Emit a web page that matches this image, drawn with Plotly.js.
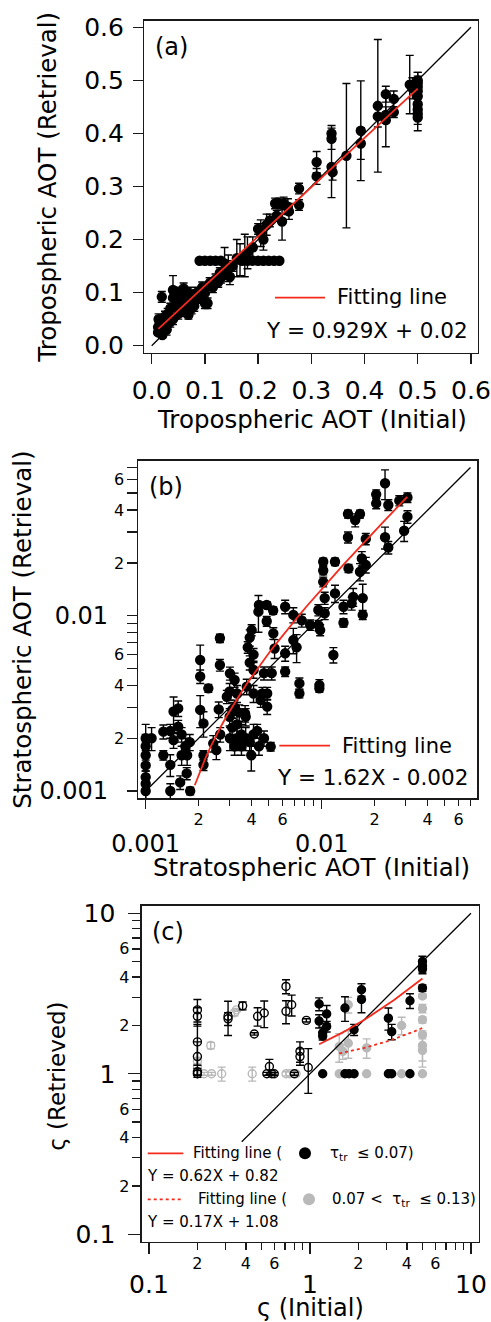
<!DOCTYPE html>
<html><head><meta charset="utf-8">
<script src="https://cdn.plot.ly/plotly-3.0.1.min.js"></script>
<style>body{margin:0;padding:0;background:#fff}#chart{width:491px;height:1322px}</style>
</head><body><div id="chart"></div>
<script>
// ---------- Panel (a): Tropospheric AOT ----------
const aX = [0.485,0.49,0.5,0.5,0.5,0.5,0.5,0.5,0.5,0.5,0.5,0.425,0.425,0.44,0.44,0.44,0.455,0.455,0.393,0.393,0.366,0.338,0.338,0.338,0.34,0.31,0.31,0.277,0.277,0.232,0.24,0.248,0.256,0.258,0.245,0.235,0.222,0.216,0.2,0.205,0.21,0.19,0.18,0.175,0.166,0.16,0.137,
  0.09,0.1,0.11,0.12,0.13,0.17,0.18,0.19,0.2,0.21,0.22,0.23,0.24,
  0.152,0.144,0.147,0.14,0.128,0.12,0.109,0.1,0.105,0.095,0.085,0.08,0.075,0.07,0.069,0.065,0.06,0.06,0.055,0.05,0.05,0.045,0.04,0.04,0.04,0.035,0.03,0.03,0.025,0.025,0.02,0.019,0.018,0.015,0.013,0.012,0.012,0.02,0.028,0.035,0.045,0.055,0.062,0.07,0.075,0.08,0.09,0.1,0.115,0.125,0.13];
const aY = [0.492,0.485,0.5,0.495,0.488,0.48,0.47,0.455,0.445,0.437,0.43,0.452,0.432,0.474,0.425,0.435,0.465,0.44,0.405,0.381,0.358,0.40,0.39,0.337,0.327,0.346,0.319,0.296,0.265,0.268,0.268,0.268,0.262,0.253,0.234,0.245,0.236,0.228,0.22,0.212,0.2,0.185,0.175,0.17,0.162,0.165,0.155,
  0.16,0.16,0.16,0.16,0.16,0.16,0.16,0.16,0.16,0.16,0.16,0.16,0.16,
  0.15,0.146,0.13,0.14,0.137,0.125,0.118,0.099,0.08,0.11,0.1,0.09,0.085,0.08,0.058,0.07,0.108,0.07,0.065,0.06,0.1,0.095,0.105,0.09,0.05,0.045,0.06,0.04,0.055,0.035,0.045,0.092,0.03,0.04,0.05,0.035,0.025,0.02,0.03,0.07,0.075,0.085,0.09,0.1,0.07,0.075,0.09,0.08,0.11,0.12,0.128];
const aErr = [0.055,0.02,0.015,0.02,0.02,0.015,0.02,0.02,0.015,0.02,0.025,0.125,0.02,0.015,0.05,0.015,0.015,0.01,0.094,0.03,0.136,0.015,0.02,0.058,0.015,0.02,0.015,0.01,0.01,0.01,0.01,0.012,0.015,0.015,0.035,0.01,0.012,0.02,0.01,0.025,0.02,0.02,0.03,0.04,0.03,0.035,0.03,
  0,0,0,0,0,0,0,0,0,0,0,0,0,
  0.01,0.025,0.015,0.01,0.01,0.01,0.01,0.015,0.01,0.01,0.01,0.01,0.01,0.01,0.008,0.01,0.01,0.01,0.01,0.01,0.01,0.01,0.027,0.01,0.01,0.01,0.01,0.01,0.01,0.01,0.01,0.01,0.01,0.015,0.01,0.01,0.005,0.005,0.01,0.01,0.01,0.01,0.01,0.01,0.01,0.01,0.01,0.01,0.01,0.01,0.01];
const aOneToOne = [0, 0.6];
const aFit = {slope: 0.929, intercept: 0.02, xFrom: 0.0125, xTo: 0.5};
const aTicks = [0, 0.1, 0.2, 0.3, 0.4, 0.5, 0.6];
const aTickText = ['0.0','0.1','0.2','0.3','0.4','0.5','0.6'];

// ---------- Panel (b): Stratospheric AOT ----------
const bX = [0.0229,0.0204,0.0204,0.0239,0.0276,0.0307,0.0307,0.0294,0.0239,0.0229,0.0141,0.0155,0.0165,0.0141,0.0178,0.0102,0.0119,0.0102,0.0102,0.0142,0.0169,0.0178,0.0165,0.0119,0.0104,0.0133,0.0148,0.0151,0.0171,0.0171,0.00957,0.0104,0.0098,0.0096,0.0086,0.0133,0.01165,0.0097,0.0097,0.00747,0.00747,0.0062,0.0069,0.0077,0.0062,0.0062,0.0069,0.0072,0.00437,0.00487,0.0053,0.00487,0.00531,0.0054,0.0040,0.0039,0.0038,0.0041,0.0039,0.0041,0.00375,0.0041,0.0047,0.0052,0.0049,0.0049,0.00301,0.0032,0.0033,0.0030,0.00264,0.00264,0.00204,0.00204,0.00227,0.00204,0.0026,0.0031,0.0034,0.00367,0.00144,0.00153,0.00153,0.00138,0.00126,0.001,0.00108,0.001,0.001,0.001,0.001,0.001,0.001,0.00126,0.00138,0.00138,0.00157,0.00171,0.00179,0.0016,0.00168,0.00178,0.0016,0.00172,0.00144,0.00213,0.00213,0.00213,0.00242,0.00252,0.00265,0.00301,0.0033,0.0035,0.0037,0.0041,0.0031,0.0033,0.00398,0.0043,0.0047,0.00513,0.0037,0.003,0.0032,0.00289,0.0045,0.0046,0.0044,0.0035,0.0039,0.0044,0.0032];
const bY = [0.0569,0.0492,0.0437,0.0428,0.0453,0.0472,0.0367,0.0305,0.0245,0.028,0.038,0.0351,0.038,0.028,0.0274,0.0203,0.0203,0.0181,0.0156,0.0186,0.0212,0.0195,0.0178,0.0134,0.0126,0.01125,0.01176,0.0128,0.0126,0.0101,0.01077,0.0103,0.00828,0.0088,0.00885,0.00912,0.00597,0.00402,0.00385,0.00411,0.0036,0.01125,0.0101,0.0094,0.0061,0.0048,0.00726,0.0066,0.01054,0.0115,0.0107,0.0093,0.00793,0.0065,0.00828,0.0075,0.0066,0.006,0.0054,0.0049,0.00394,0.0036,0.0047,0.0047,0.0036,0.00303,0.00469,0.0043,0.0036,0.0037,0.00743,0.00523,0.00559,0.0045,0.00385,0.0029,0.00292,0.0029,0.0028,0.00277,0.00284,0.00296,0.00233,0.0022,0.00218,0.002,0.002,0.0018,0.0016,0.0014,0.0012,0.0011,0.001,0.0016,0.00141,0.001,0.00112,0.00126,0.001,0.0021,0.0018,0.0019,0.0016,0.0016,0.00195,0.0016,0.00141,0.00243,0.00187,0.00171,0.0021,0.002,0.002,0.0021,0.002,0.0021,0.0023,0.0024,0.0016,0.0022,0.002,0.00179,0.00265,0.00265,0.003,0.00345,0.0033,0.0036,0.0115,0.0018,0.0019,0.0018,0.0018];
const bErr = [0.011,0.003,0.003,0.003,0.003,0.003,0.003,0.004,0.002,0.004,0.002,0.003,0.002,0.002,0.002,0.001,0.001,0.001,0.001,0.001,0.002,0.002,0.002,0.0015,0.001,0.001,0.001,0.0015,0.0025,0.0006,0.0008,0.0008,0.0006,0.0006,0.0006,0.0005,0.0006,0.0003,0.0002,0.0003,0.0002,0.001,0.001,0.0008,0.0006,0.0003,0.0012,0.0012,0.0025,0.0005,0.0005,0.0006,0.0006,0.0008,0.0006,0.0008,0.0005,0.0005,0.0005,0.0005,0.0004,0.0004,0.0004,0.0004,0.0003,0.0003,0.0004,0.0004,0.0004,0.0004,0.0004,0.0004,0.0012,0.0004,0.0002,0.0006,0.0003,0.0003,0.0003,0.0003,0.0006,0.0003,0.0002,0.0002,0.0002,0.0004,0.0003,0.0003,0.0003,0.0003,0.0002,0.0002,0.0001,0.0001,0.0002,0.0001,0.0001,0.0001,0.00005,0.0002,0.0002,0.0002,0.0002,0.0002,0.0002,0.0001,0.0001,0.0004,0.0002,0.0002,0.0002,0.0003,0.0003,0.0003,0.0003,0.0003,0.0003,0.0003,0.0003,0.0002,0.0002,0.0001,0.0003,0.0003,0.0003,0.0003,0.0003,0.0003,0.0003,0.0002,0.0002,0.0002,0.0002];
const bOneToOne = [0.001, 0.07];
const bFit = {slope: 1.62, intercept: -0.002, xFrom: 0.0019, xTo: 0.0306};
const bMajor = [0.001, 0.01];
const bMajorText = ['0.001', '0.01'];
const bMinor = [0.002,0.003,0.004,0.005,0.006,0.007,0.008,0.009,0.02,0.03,0.04,0.05,0.06,0.07];
const bMinorLabeled = [0.002,0.004,0.006,0.02,0.04,0.06];
const bMinorText = ['2','4','6','2','4','6'];

// ---------- Panel (c): varsigma ----------
const cOpenBlackX = [0.2,0.2,0.2,0.2,0.2,0.2,0.31,0.31,0.382,0.451,0.473,0.52,0.56,0.54,0.58,0.6,0.71,0.71,0.77,0.95,0.867,0.867,0.976,0.8];
const cOpenBlackY = [2.5,2.28,1.58,1.28,1.03,1.0,2.28,2.2,2.65,1.77,2.28,2.39,1.11,1.0,1.0,1.0,3.5,2.45,2.69,2.15,1.38,1.28,1.095,1.0];
const cOpenBlackErr = [0.4,0.3,0.45,0.3,0.05,0.05,0.55,0.2,0.15,0.03,0.3,0.45,0.12,0.02,0.02,0.02,0.35,0.4,0.4,0.05,0.2,0.15,0.34,0.02];
const cOpenGrayX = [0.2,0.2,0.2,0.22,0.242,0.245,0.283,0.34,0.35,0.438,0.71,0.75,0.82];
const cOpenGrayY = [1.2,1.1,1.0,1.0,1.5,1.0,1.0,2.4,2.5,1.0,1.0,1.0,1.0];
const cOpenGrayErr = [0.05,0.05,0.05,0.02,0.07,0.02,0.1,0.1,0.05,0.1,0.03,0.03,0.03];
const cBlackX = [1.14,1.14,1.2,1.2,1.27,1.27,1.65,1.88,2.09,2.09,3.07,3.22,4.18,5.0,5.0,5.0,5.0,1.2,1.65,1.75,1.88,3.07,3.22,4.18];
const cBlackY = [2.72,2.13,1.8,1.72,2.36,1.97,2.57,1.88,3.34,2.9,2.22,1.83,2.85,5.0,4.7,4.5,3.42,1,1,1,1,1,1,1];
const cBlackErr = [0.25,0.2,0.15,0.1,0.3,0.15,0.45,0.15,0.3,0.5,0.35,0.2,0.3,0.4,0.4,0.3,0.15,0,0,0,0,0,0,0];
const cGrayX = [1.73,1.73,1.52,1.6,2.25,3.71,5.0,5.0,5.0,5.0,5.0,5.0,1.52,2.25,3.71,5.0];
const cGrayY = [2.69,1.55,1.48,1.38,1.45,2.0,3.05,2.55,2.17,1.5,1.4,1.75,1,1,1,1];
const cGrayErr = [0.3,0.3,0.3,0.15,0.2,0.25,0.1,0.15,0.1,0.3,0.3,0.1,0,0,0,0];
const cOneToOne = [0.377, 10];
const cFitSolid = {slope: 0.62, intercept: 0.82, xFrom: 1.14, xTo: 5.0};
const cFitDotted = {slope: 0.17, intercept: 1.08, xFrom: 1.52, xTo: 5.0};
const cMajor = [0.1, 1, 10];
const cMajorText = ['0.1', '1', '10'];
const cMinor = [0.2,0.3,0.4,0.5,0.6,0.7,0.8,0.9,2,3,4,5,6,7,8,9];
const cMinorLabeled = [0.2,0.4,0.6,2,4,6];
const cMinorText = ['2','4','6','2','4','6'];

// ---------- helpers ----------
const W = 491, H = 1322;
const FONT = 'DejaVu Sans, sans-serif';
const RED = '#f42a1c', GRAY = '#b9b9b9', INK = '#1a1a1a';
const px = v => v / W, py = v => 1 - v / H;
function fitLine(f, log) {
  const xs = [], ys = [], n = 40;
  for (let i = 0; i <= n; i++) {
    const x = log ? f.xFrom * Math.pow(f.xTo / f.xFrom, i / n) : f.xFrom + (f.xTo - f.xFrom) * i / n;
    xs.push(x); ys.push(f.slope * x + f.intercept);
  }
  return {xs, ys};
}
function pts(x, y, err, xa, ya, symbol, color, size) {
  return {type: 'scatter', mode: 'markers', x, y, xaxis: xa, yaxis: ya, showlegend: false, hoverinfo: 'skip',
    marker: {symbol, size, color, line: {color, width: 1.4}},
    error_y: {type: 'data', array: err, visible: true, color, thickness: 1.4, width: 4}};
}
function line(x, y, xa, ya, color, dash, width) {
  return {type: 'scatter', mode: 'lines', x, y, xaxis: xa, yaxis: ya, showlegend: false, hoverinfo: 'skip',
    line: {color, width, dash}};
}
const fa = fitLine(aFit, false), fb = fitLine(bFit, true), fc1 = fitLine(cFitSolid, true), fc2 = fitLine(cFitDotted, true);

const traces = [
  pts(aX, aY, aErr, 'x', 'y', 'circle', '#000', 9),
  line(aOneToOne, aOneToOne, 'x', 'y', '#000', 'solid', 1.3),
  line(fa.xs, fa.ys, 'x', 'y', RED, 'solid', 1.8),
  pts(bX, bY, bErr, 'x2', 'y2', 'circle', '#000', 9),
  line(bOneToOne, bOneToOne, 'x2', 'y2', '#000', 'solid', 1.3),
  line(fb.xs, fb.ys, 'x2', 'y2', RED, 'solid', 1.8),
  pts(cGrayX, cGrayY, cGrayErr, 'x3', 'y3', 'circle', GRAY, 8),
  pts(cOpenGrayX, cOpenGrayY, cOpenGrayErr, 'x3', 'y3', 'circle-open', GRAY, 8),
  pts(cOpenBlackX, cOpenBlackY, cOpenBlackErr, 'x3', 'y3', 'circle-open', '#000', 8),
  pts(cBlackX, cBlackY, cBlackErr, 'x3', 'y3', 'circle', '#000', 8),
  line(cOneToOne, cOneToOne, 'x3', 'y3', '#000', 'solid', 1.3),
  line(fc1.xs, fc1.ys, 'x3', 'y3', RED, 'solid', 1.8),
  line(fc2.xs, fc2.ys, 'x3', 'y3', RED, 'dot', 1.8),
  {type: 'scatter', x: [], y: [], xaxis: 'x4', yaxis: 'y4', showlegend: false},
  {type: 'scatter', x: [], y: [], xaxis: 'x5', yaxis: 'y5', showlegend: false}
];

const frame = {showline: true, mirror: true, linecolor: INK, linewidth: 1.4, showgrid: false, zeroline: false,
  ticks: 'outside', tickcolor: INK, tickwidth: 1.3};
const dA = {x: [px(144.3), px(478)], y: [py(352.7), py(20.7)]};
const dB = {x: [px(138.3), px(477.3)], y: [py(798.3), py(460.7)]};
const dC = {x: [px(141.7), px(479)], y: [py(1241.7), py(905.7)]};
const bXr = [-3.042, -1.116], bYr = [-3.0416, -1.116];
const cXr = [-1.045, 1.05], cYr = [-1.046, 1.047];
const minorTicks = (vals, len) => ({tickvals: vals, ticks: 'outside', ticklen: len, tickcolor: INK, tickwidth: 1.3, showgrid: false});
const labelAx = (over, anchor, range, len, side, vals, text) => ({overlaying: over, anchor, type: 'log', range, autorange: false,
  showline: false, showgrid: false, zeroline: false, ticks: 'outside', ticklen: len, tickcolor: INK, tickwidth: 1.3,
  tickvals: vals, ticktext: text, tickfont: {family: FONT, size: 16, color: '#000'}, side});

const layout = {
  width: W, height: H, margin: {l: 0, r: 0, t: 0, b: 0}, paper_bgcolor: '#fff', plot_bgcolor: '#fff', showlegend: false,
  font: {family: FONT, color: '#000'},
  xaxis: Object.assign({}, frame, {domain: dA.x, anchor: 'y', range: [-0.0139, 0.6133], autorange: false,
    tickvals: aTicks, ticktext: aTickText, ticklen: 10, ticklabelstandoff: 5, tickfont: {family: FONT, size: 25}}),
  yaxis: Object.assign({}, frame, {domain: dA.y, anchor: 'x', range: [-0.0132, 0.6124], autorange: false,
    tickvals: aTicks, ticktext: aTickText, ticklen: 10, ticklabelstandoff: 4, tickfont: {family: FONT, size: 25}}),
  xaxis2: Object.assign({}, frame, {domain: dB.x, anchor: 'y2', type: 'log', range: bXr, autorange: false,
    tickvals: bMajor, ticktext: bMajorText, ticklen: 9, ticklabelstandoff: 14, tickfont: {family: FONT, size: 24},
    minor: minorTicks(bMinor, 6)}),
  yaxis2: Object.assign({}, frame, {domain: dB.y, anchor: 'x2', type: 'log', range: bYr, autorange: false,
    tickvals: bMajor, ticktext: bMajorText, ticklen: 10, ticklabelstandoff: 14, tickfont: {family: FONT, size: 24},
    minor: minorTicks(bMinor, 10)}),
  xaxis4: labelAx('x2', 'y2', bXr, 6, 'bottom', bMinorLabeled, bMinorText),
  yaxis4: labelAx('y2', 'x4', bYr, 10, 'left', bMinorLabeled, bMinorText),
  xaxis3: Object.assign({}, frame, {domain: dC.x, anchor: 'y3', type: 'log', range: cXr, autorange: false,
    tickvals: cMajor, ticktext: cMajorText, ticklen: 11, ticklabelstandoff: 9, tickfont: {family: FONT, size: 25},
    minor: minorTicks(cMinor, 7)}),
  yaxis3: Object.assign({}, frame, {domain: dC.y, anchor: 'x3', type: 'log', range: cYr, autorange: false,
    tickvals: cMajor, ticktext: cMajorText, ticklen: 12, ticklabelstandoff: 8, tickfont: {family: FONT, size: 25},
    minor: minorTicks(cMinor, 8)}),
  xaxis5: labelAx('x3', 'y3', cXr, 7, 'bottom', cMinorLabeled, cMinorText),
  yaxis5: labelAx('y3', 'x5', cYr, 8, 'left', cMinorLabeled, cMinorText),
  shapes: [
    {type: 'line', xref: 'paper', yref: 'paper', x0: px(275), x1: px(325), y0: py(297.7), y1: py(297.7), line: {color: RED, width: 1.8}},
    {type: 'line', xref: 'paper', yref: 'paper', x0: px(279.3), x1: px(330), y0: py(745.7), y1: py(745.7), line: {color: RED, width: 1.8}},
    {type: 'line', xref: 'paper', yref: 'paper', x0: px(147.7), x1: px(183.3), y0: py(1153.3), y1: py(1153.3), line: {color: RED, width: 1.8}},
    {type: 'line', xref: 'paper', yref: 'paper', x0: px(147.7), x1: px(183.3), y0: py(1199.3), y1: py(1199.3), line: {color: RED, width: 1.8, dash: 'dot'}},
    {type: 'circle', xref: 'paper', yref: 'paper', xsizemode: 'pixel', ysizemode: 'pixel', xanchor: px(305), yanchor: py(1153.3), x0: -6, x1: 6, y0: -6, y1: 6, fillcolor: '#000', line: {width: 0}},
    {type: 'circle', xref: 'paper', yref: 'paper', xsizemode: 'pixel', ysizemode: 'pixel', xanchor: px(309), yanchor: py(1199.3), x0: -6, x1: 6, y0: -6, y1: 6, fillcolor: GRAY, line: {width: 0}}
  ],
  annotations: []
};
function ann(text, x, y, size, xanchor, extra) {
  layout.annotations.push(Object.assign({text, x: px(x), y: py(y), xref: 'paper', yref: 'paper', showarrow: false,
    xanchor: xanchor || 'center', yanchor: 'middle', font: {family: FONT, size, color: '#000'}}, extra || {}));
}
// panel (a)
ann('(a)', 153, 46.7, 24, 'left');
ann('Fitting line', 335, 297, 21, 'left');
ann('Y = 0.929X + 0.02', 470, 330, 21.5, 'right');
ann('Tropospheric AOT (Initial)', 311.5, 419, 24.5);
ann('Tropospheric AOT (Retrieval)', 46.7, 187, 24.5, 'center', {textangle: -90});
// panel (b)
ann('(b)', 146.7, 487, 24, 'left');
ann('Fitting line', 340, 745.7, 21, 'left');
ann('Y = 1.62X - 0.002', 470, 777.3, 21.5, 'right');
ann('Stratospheric AOT (Initial)', 311, 867, 24.5);
ann('Stratospheric AOT (Retrieval)', 21.7, 630, 24.5, 'center', {textangle: -90});
// panel (c)
ann('(c)', 150, 931.5, 24, 'left');
ann('Fitting line (', 191, 1153.3, 15, 'left');
ann('τ<sub>tr</sub>  ≤ 0.07)', 328, 1153.3, 15, 'left');
ann('Y = 0.62X + 0.82', 145, 1176, 15, 'left');
ann('Fitting line (', 196, 1199.3, 15, 'left');
ann('0.07 <  τ<sub>tr</sub>  ≤ 0.13)', 330, 1199.3, 15, 'left');
ann('Y = 0.17X + 1.08', 145, 1222.3, 15, 'left');
ann('ς (Initial)', 310, 1308, 24);
ann('ς (Retrieved)', 56.7, 1076, 23, 'center', {textangle: -90});

Plotly.newPlot('chart', traces, layout, {staticPlot: true, displayModeBar: false});
</script>
</body></html>
